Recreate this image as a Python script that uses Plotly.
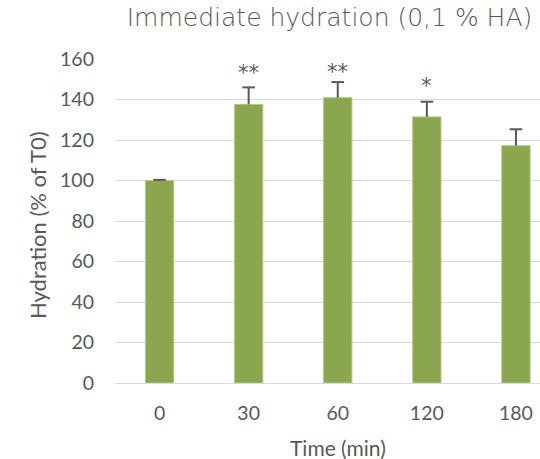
import plotly.graph_objects as go

categories = ["0", "30", "60", "120", "180"]
values = [100, 137.6, 140.9, 131.4, 117.2]
errors = [0.3, 8.4, 7.7, 7.5, 8.1]
stars = ["", "**", "**", "*", ""]
star_y = [None, 155.4, 156.2, 149.3, None]

TXT = "#595959"
GRID = "#d9d9d9"
BAR = "#8aa64f"

fig = go.Figure()
fig.add_trace(go.Bar(
    x=categories, y=values,
    marker=dict(color=BAR, line=dict(color="#b3c98a", width=1)),
    error_y=dict(type="data", symmetric=False, array=errors,
                 arrayminus=[0] * len(errors), color=TXT, thickness=2, width=0),
    hoverinfo="skip",
))
fig.add_trace(go.Scatter(
    x=categories, y=[v + e for v, e in zip(values, errors)],
    mode="markers",
    marker=dict(symbol="line-ew", size=9, line=dict(color=TXT, width=2)),
    hoverinfo="skip", cliponaxis=False,
))

annotations = [
    dict(text="Time (min)", xref="paper", yref="paper", x=(338 - 115) / 425,
         y=0, yshift=-64, xanchor="center", yanchor="middle", showarrow=False,
         font=dict(family="Lato", size=21, color=TXT)),
    dict(text="Hydration (% of T0)", xref="paper", yref="paper", x=0,
         xshift=-78, y=0.5, yshift=-4, xanchor="center", yanchor="middle",
         textangle=-90, showarrow=False,
         font=dict(family="Lato", size=22, color=TXT)),
]
for i, (s, sy) in enumerate(zip(stars, star_y)):
    if s:
        annotations.append(dict(
            text=s, x=i, y=sy, xref="x", yref="y", yshift=-5,
            xanchor="center", yanchor="middle", showarrow=False,
            font=dict(family="DejaVu Sans", size=21, color=TXT)))

fig.update_layout(
    width=540, height=459,
    margin=dict(l=115, r=0, t=59, b=76),
    plot_bgcolor="white", paper_bgcolor="white",
    showlegend=False,
    bargap=0.682,
    title=dict(text="Immediate hydration (0,1 % HA)",
               font=dict(family="DejaVu Sans", size=25, color=TXT, weight=200),
               x=329.5 / 540, xanchor="center", xref="container",
               y=1 - 17 / 459, yanchor="middle", yref="container"),
    xaxis=dict(type="category", range=[-0.5, 4.27], showgrid=False,
               showline=False, zeroline=False, ticks="",
               tickfont=dict(family="Lato", size=19.5, color=TXT),
               ticklabelstandoff=16),
    yaxis=dict(range=[0, 160], dtick=20, tick0=0, showgrid=True,
               gridcolor=GRID, gridwidth=1.3, zeroline=True,
               zerolinecolor=GRID, zerolinewidth=1.3, showline=False,
               ticks="", tickfont=dict(family="Lato", size=19.5, color=TXT),
               ticklabelstandoff=20),
    annotations=annotations,
)

fig.write_html("out.html")
